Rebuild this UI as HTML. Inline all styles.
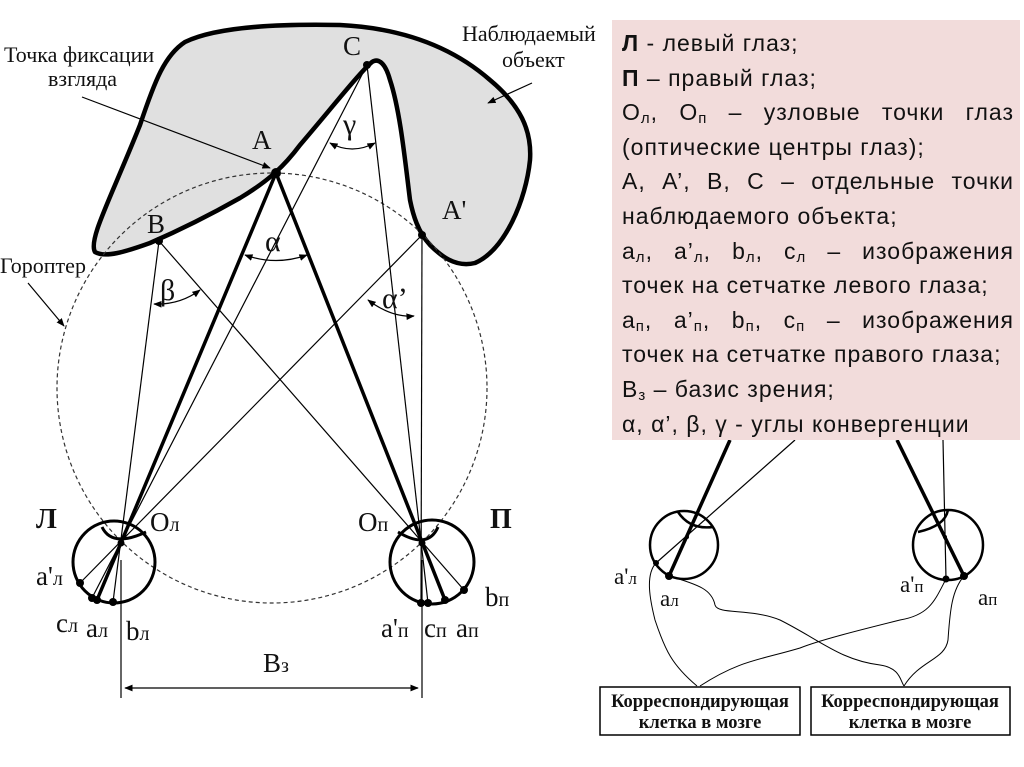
<!DOCTYPE html>
<html><head><meta charset="utf-8"><style>
body{margin:0;background:#fff;width:1024px;height:767px;overflow:hidden;position:relative}
svg{position:absolute;left:0;top:0}
.panel{position:absolute;left:612px;top:20px;width:392px;height:408px;background:#F2DCDB;padding:6px 6px 6px 10px;font-family:"Liberation Sans",sans-serif;font-size:23px;letter-spacing:1px;line-height:34.6px;color:#111}
.panel div{text-align:justify;text-align-last:justify;white-space:nowrap}
.panel div.l{text-align-last:left}
sub{font-size:15px;vertical-align:-3px;line-height:0}
</style></head><body>
<svg width="1024" height="767" viewBox="0 0 1024 767" font-family="Liberation Serif, serif">
<defs><marker id="ar" viewBox="0 0 10 10" refX="9" refY="5" markerWidth="7" markerHeight="7" orient="auto-start-reverse"><path d="M0,1 L10,5 L0,9z" fill="#000"/></marker></defs>
<path d="M95,252 C88,240 110,200 140,125 C155,80 165,55 185,42 C220,25 290,24 340,25 C400,28 450,45 490,80 C520,105 532,130 530,160 C526,200 505,250 475,263 C455,268 440,255 430,245 C418,232 413,215 410,200 C405,160 400,110 390,80 C385,62 378,58 372,62 C360,72 330,110 300,145 C285,165 270,180 240,198 C210,215 180,230 150,243 C125,252 105,258 95,252Z" fill="#e0e0e0" stroke="#000" stroke-width="4.5"/>
<circle cx="272" cy="388" r="215" fill="none" stroke="#333" stroke-width="1.2" stroke-dasharray="4,3"/>
<g stroke="#000" stroke-width="1.2" fill="none">
<line x1="367" y1="65" x2="92" y2="598"/>
<line x1="367" y1="65" x2="428" y2="603"/>
<line x1="159" y1="241" x2="113" y2="602"/>
<line x1="159" y1="241" x2="464" y2="590"/>
<line x1="422" y1="235" x2="80" y2="583"/>
<line x1="422" y1="235" x2="421" y2="603"/>
<line x1="121" y1="560" x2="121" y2="698"/>
<line x1="422" y1="560" x2="422" y2="698"/>
<line x1="125" y1="688" x2="418" y2="688" marker-start="url(#ar)" marker-end="url(#ar)"/>
<path d="M330,143 Q352,155 375,143" marker-start="url(#ar)" marker-end="url(#ar)"/>
<path d="M245,255 Q276,266 307,255" marker-start="url(#ar)" marker-end="url(#ar)"/>
<path d="M154,304 Q180,305 200,290" marker-start="url(#ar)" marker-end="url(#ar)"/>
<path d="M368,300 Q392,318 414,316" marker-start="url(#ar)" marker-end="url(#ar)"/>
<line x1="82" y1="97" x2="270" y2="168" marker-end="url(#ar)"/>
<line x1="28" y1="283" x2="64" y2="326" marker-end="url(#ar)"/>
<line x1="532" y1="83" x2="488" y2="103" marker-end="url(#ar)"/>
</g>
<g stroke="#000" stroke-width="3.5">
<line x1="276" y1="173" x2="97" y2="600"/>
<line x1="276" y1="173" x2="445" y2="600"/>
</g>
<g stroke="#000" stroke-width="3" fill="none">
<circle cx="114" cy="562" r="41"/><circle cx="432" cy="562" r="42"/>
<path d="M102,527 Q112,548 146,532"/><path d="M398,532 Q428,550 438,527"/>
</g>
<g fill="#000">
<circle cx="276" cy="173" r="5"/><circle cx="367" cy="65" r="4"/><circle cx="159" cy="241" r="4"/><circle cx="422" cy="235" r="4"/>
<circle cx="121" cy="543" r="3.5"/><circle cx="422" cy="543" r="3.5"/>
<circle cx="80" cy="583" r="4"/><circle cx="92" cy="598" r="4"/><circle cx="97" cy="600" r="4"/><circle cx="113" cy="602" r="4"/>
<circle cx="421" cy="603" r="4"/><circle cx="428" cy="603" r="4"/><circle cx="445" cy="600" r="4"/><circle cx="464" cy="590" r="4"/>
</g>
<g font-size="22" fill="#111">
<text x="4" y="62">Точка фиксации</text><text x="48" y="86">взгляда</text>
<text x="0" y="273">Гороптер</text>
<text x="462" y="41">Наблюдаемый</text><text x="502" y="67">объект</text>
</g>
<g font-size="27" fill="#111">
<text x="343" y="55">C</text><text x="252" y="149">A</text><text x="147" y="233">B</text><text x="442" y="219">A'</text>
<text x="265" y="251" font-size="30">α</text><text x="343" y="134" font-size="30">γ</text><text x="160" y="300" font-size="30">β</text><text x="382" y="308" font-size="30">α’</text>
<text x="150" y="531">O<tspan font-size="20">л</tspan></text><text x="358" y="531">O<tspan font-size="20">п</tspan></text>
<text x="36" y="585">a'<tspan font-size="20">л</tspan></text><text x="56" y="632">c<tspan font-size="20">л</tspan></text><text x="86" y="637">a<tspan font-size="20">л</tspan></text><text x="126" y="640">b<tspan font-size="20">л</tspan></text>
<text x="381" y="637">a'<tspan font-size="20">п</tspan></text><text x="424" y="637">c<tspan font-size="20">п</tspan></text><text x="456" y="637">a<tspan font-size="20">п</tspan></text><text x="485" y="606">b<tspan font-size="20">п</tspan></text>
<text x="263" y="672">B<tspan font-size="20">з</tspan></text>
<text x="36" y="528" font-weight="bold" font-size="28">Л</text><text x="490" y="528" font-weight="bold" font-size="28">П</text>
</g>
<g stroke="#000" fill="none">
<line x1="730" y1="440" x2="669" y2="576" stroke-width="3.5"/>
<line x1="897" y1="440" x2="964" y2="576" stroke-width="3.5"/>
<line x1="795" y1="440" x2="656" y2="563" stroke-width="1.2"/>
<line x1="943" y1="440" x2="946" y2="579" stroke-width="1.2"/>
<circle cx="684" cy="545" r="34" stroke-width="2.5"/><circle cx="948" cy="545" r="35" stroke-width="2.5"/>
<path d="M678,512 Q690,530 713,527" stroke-width="2.5"/><path d="M918,532 Q945,526 948,510" stroke-width="2.5"/>
<g stroke-width="1">
<path d="M656,563 C645,575 650,600 655,620 C665,650 672,665 697,686"/>
<path d="M669,576 C700,585 712,590 715,605 C718,615 750,608 780,620 C820,640 840,660 880,665 C900,668 900,680 904,686"/>
<path d="M946,579 C935,600 930,615 900,620 C860,630 820,640 800,648 C760,660 740,660 700,686"/>
<path d="M964,576 C952,590 950,610 948,640 C945,660 920,660 904,686"/>
</g>
<rect x="600" y="687" width="200" height="48" stroke-width="1.5"/>
<rect x="811" y="687" width="199" height="48" stroke-width="1.5"/>
</g>
<g fill="#000"><circle cx="669" cy="576" r="4"/><circle cx="656" cy="563" r="3"/><circle cx="946" cy="579" r="3.5"/><circle cx="964" cy="576" r="4"/><circle cx="687" cy="537" r="2"/><circle cx="945" cy="537" r="2"/></g>
<g font-size="23" fill="#111">
<text x="614" y="584">a'<tspan font-size="17">л</tspan></text><text x="660" y="606">a<tspan font-size="17">л</tspan></text>
<text x="900" y="592">a'<tspan font-size="17">п</tspan></text><text x="978" y="605">a<tspan font-size="17">п</tspan></text>
</g>
<g font-size="18.5" font-weight="bold" fill="#111" text-anchor="middle">
<text x="700" y="707">Корреспондирующая</text><text x="700" y="728">клетка в мозге</text>
<text x="910" y="707">Корреспондирующая</text><text x="910" y="728">клетка в мозге</text>
</g>
</svg>
<div class="panel">
<div class="l"><b>Л</b> - левый глаз;</div>
<div class="l"><b>П</b> – правый глаз;</div>
<div>О<sub>л</sub>, О<sub>п</sub> – узловые точки глаз</div>
<div class="l">(оптические центры глаз);</div>
<div>А, А’, В, С – отдельные точки</div>
<div class="l">наблюдаемого объекта;</div>
<div>а<sub>л</sub>, а’<sub>л</sub>, b<sub>л</sub>, с<sub>л</sub> – изображения</div>
<div class="l">точек на сетчатке левого глаза;</div>
<div>а<sub>п</sub>, а’<sub>п</sub>, b<sub>п</sub>, с<sub>п</sub> – изображения</div>
<div class="l">точек на сетчатке правого глаза;</div>
<div class="l">В<sub>з</sub> – базис зрения;</div>
<div class="l">α, α’, β, γ - углы конвергенции</div>
</div>
</body></html>
